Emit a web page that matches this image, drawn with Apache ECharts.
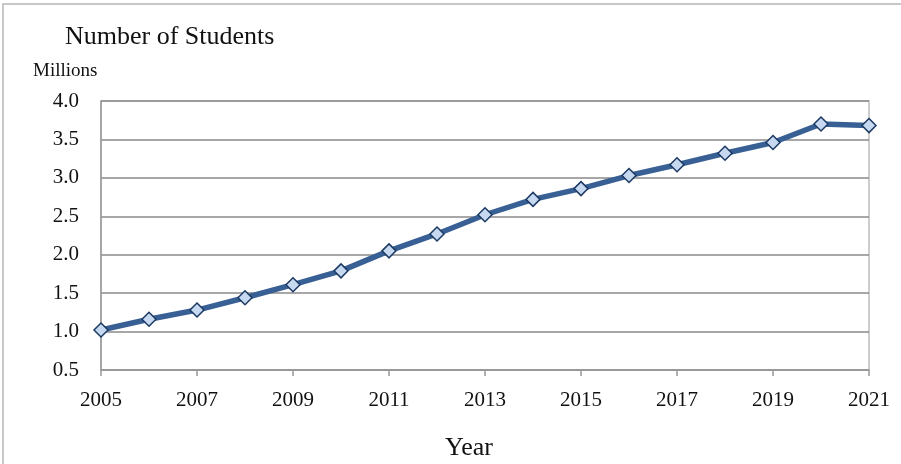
<!DOCTYPE html>
<html>
<head>
<meta charset="utf-8">
<script src="https://cdn.jsdelivr.net/npm/echarts@6/dist/echarts.min.js"></script>
<style>
  html, body { margin: 0; padding: 0; background: #fff; }
  #frame { position: absolute; left: 2px; top: 3px; width: 905px; height: 470px;
           border-left: 2px solid #c8c8c8; border-top: 2px solid #c8c8c8; }
  #chart { position: absolute; left: 0; top: 0; width: 901px; height: 464px; }
</style>
</head>
<body>
<div id="frame"></div>
<div id="chart"></div>
<script>
const years = ['2005', '2006', '2007', '2008', '2009', '2010', '2011', '2012', '2013',
  '2014', '2015', '2016', '2017', '2018', '2019', '2020', '2021'];
const students = [1.02, 1.16, 1.28, 1.44, 1.61, 1.79, 2.05, 2.27, 2.52,
  2.72, 2.86, 3.03, 3.17, 3.32, 3.46, 3.70, 3.68];

const serif = '"Liberation Serif", "DejaVu Serif", serif';
const chart = echarts.init(document.getElementById('chart'));

chart.setOption({
  animation: false,
  title: [
    { text: 'Number of Students', left: 60, top: 19,
      textStyle: { fontFamily: serif, fontSize: 26, fontWeight: 'normal', color: '#111' } },
    { text: 'Millions', left: 28, top: 57,
      textStyle: { fontFamily: serif, fontSize: 19, fontWeight: 'normal', color: '#111' } },
    { text: 'Year', left: 440, top: 430,
      textStyle: { fontFamily: serif, fontSize: 26, fontWeight: 'normal', color: '#111' } }
  ],
  grid: { left: 101, right: 32, top: 101, bottom: 94, show: true, borderColor: '#bdbdbd', borderWidth: 1.5 },
  xAxis: {
    type: 'category',
    data: years,
    boundaryGap: false,
    axisLine: { lineStyle: { color: '#999', width: 1.5 } },
    axisTick: { show: true, interval: 1, length: 6, lineStyle: { color: '#999', width: 1.5 } },
    axisLabel: { interval: 1, margin: 20, fontFamily: serif, fontSize: 21, color: '#111' },
    splitLine: { show: false }
  },
  yAxis: {
    type: 'value',
    min: 0.5,
    max: 4.0,
    interval: 0.5,
    axisLine: { show: true, lineStyle: { color: '#999', width: 1.5 } },
    axisTick: { show: false },
    axisLabel: { margin: 22, fontFamily: serif, fontSize: 21, color: '#111',
      formatter: v => v.toFixed(1) },
    splitLine: { lineStyle: { color: '#8a8a8a', width: 1.5 } }
  },
  series: [{
    type: 'line',
    data: students,
    symbol: 'diamond',
    symbolSize: 14,
    lineStyle: { color: '#386094', width: 5.5 },
    itemStyle: { color: '#c6d9f1', borderColor: '#1c3a63', borderWidth: 1.5 }
  }]
});
</script>
</body>
</html>
